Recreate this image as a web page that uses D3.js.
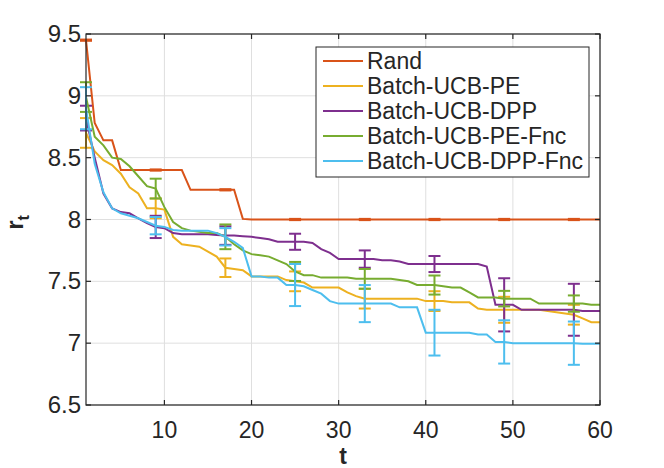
<!DOCTYPE html>
<html>
<head>
<meta charset="utf-8">
<script src="https://cdn.jsdelivr.net/npm/d3@7"></script>
<style>
    body { margin: 0; background: #fff; }
    text { font-family: "Liberation Sans", Arial, sans-serif; fill: #262626; }
</style>
</head>
<body>
<div id="regret"></div>
<script>
// t = 1..60, error bars every 8 rounds
const tValues = d3.range(1, 61);
const errT = [1, 9, 17, 25, 33, 41, 49, 57];
const xTicks = [10, 20, 30, 40, 50, 60];
const yTicks = [6.5, 7, 7.5, 8, 8.5, 9, 9.5];
const seriesNames = ["Rand", "Batch-UCB-PE", "Batch-UCB-DPP", "Batch-UCB-PE-Fnc", "Batch-UCB-DPP-Fnc"];

const randVals = [9.45, 8.78, 8.64, 8.64, 8.40, 8.40, 8.40, 8.40, 8.40, 8.40,
    8.40, 8.40, 8.24, 8.24, 8.24, 8.24, 8.24, 8.24, 8.005, 8.00,
    8.00, 8.00, 8.00, 8.00, 8.00, 8.00, 8.00, 8.00, 8.00, 8.00,
    8.00, 8.00, 8.00, 8.00, 8.00, 8.00, 8.00, 8.00, 8.00, 8.00,
    8.00, 8.00, 8.00, 8.00, 8.00, 8.00, 8.00, 8.00, 8.00, 8.00,
    8.00, 8.00, 8.00, 8.00, 8.00, 8.00, 8.00, 8.00, 8.00, 8.00];
const peVals = [8.70, 8.55, 8.48, 8.44, 8.37, 8.26, 8.21, 8.09, 8.09, 8.08,
    7.86, 7.80, 7.79, 7.78, 7.74, 7.70, 7.61, 7.60, 7.59, 7.54,
    7.54, 7.54, 7.54, 7.51, 7.50, 7.49, 7.45, 7.45, 7.45, 7.45,
    7.41, 7.38, 7.36, 7.36, 7.36, 7.36, 7.36, 7.36, 7.36, 7.34,
    7.34, 7.34, 7.33, 7.33, 7.33, 7.28, 7.27, 7.27, 7.27, 7.27,
    7.27, 7.27, 7.27, 7.26, 7.25, 7.24, 7.23, 7.20, 7.17, 7.17];
const dppVals = [8.82, 8.50, 8.21, 8.09, 8.06, 8.05, 8.01, 7.97, 7.94, 7.93,
    7.89, 7.88, 7.88, 7.88, 7.88, 7.875, 7.87, 7.87, 7.865, 7.86,
    7.85, 7.84, 7.82, 7.82, 7.82, 7.82, 7.81, 7.76, 7.73, 7.68,
    7.68, 7.68, 7.68, 7.68, 7.67, 7.67, 7.66, 7.64, 7.64, 7.64,
    7.64, 7.64, 7.64, 7.64, 7.64, 7.64, 7.62, 7.31, 7.31, 7.31,
    7.27, 7.27, 7.27, 7.27, 7.27, 7.27, 7.27, 7.26, 7.26, 7.26];
const peFncVals = [8.99, 8.67, 8.60, 8.50, 8.49, 8.43, 8.35, 8.27, 8.25, 8.10,
    7.98, 7.93, 7.91, 7.90, 7.89, 7.89, 7.86, 7.80, 7.75, 7.72,
    7.71, 7.70, 7.67, 7.64, 7.58, 7.55, 7.55, 7.53, 7.53, 7.53,
    7.53, 7.52, 7.52, 7.52, 7.52, 7.52, 7.51, 7.50, 7.47, 7.47,
    7.47, 7.46, 7.45, 7.45, 7.41, 7.37, 7.37, 7.37, 7.36, 7.36,
    7.36, 7.36, 7.32, 7.32, 7.32, 7.32, 7.32, 7.32, 7.31, 7.31];
const dppFncVals = [8.90, 8.45, 8.22, 8.09, 8.05, 8.03, 8.01, 7.98, 7.95, 7.94,
    7.915, 7.91, 7.91, 7.91, 7.91, 7.89, 7.86, 7.82, 7.77, 7.54,
    7.54, 7.53, 7.53, 7.47, 7.47, 7.46, 7.43, 7.40, 7.34, 7.32,
    7.32, 7.32, 7.32, 7.32, 7.32, 7.32, 7.29, 7.29, 7.29, 7.085,
    7.085, 7.085, 7.085, 7.085, 7.085, 7.07, 7.07, 7.01, 7.01, 7.00,
    7.00, 7.00, 7.00, 7.00, 7.00, 7.00, 7.00, 6.995, 6.995, 6.995];

// standard deviation at each errT
const randErr = [0.005, 0.005, 0.005, 0.005, 0.005, 0.005, 0.005, 0.005];
const peErr = [0.12, 0.08, 0.075, 0.08, 0.08, 0.08, 0.105, 0.08];
const dppErr = [0.10, 0.09, 0.075, 0.065, 0.07, 0.065, 0.215, 0.21];
const peFncErr = [0.12, 0.08, 0.10, 0.077, 0.08, 0.077, 0.063, 0.066];
const dppFncErr = [0.17, 0.07, 0.07, 0.17, 0.15, 0.185, 0.175, 0.175];

const colors = ["#D95319", "#EDB120", "#7E2F8E", "#77AC30", "#4DBEEE"];

class RegretGraph
{
    constructor()
    {
        this.margin = {top: 34, right: 64, bottom: 63, left: 86};
        this.width = 664 - this.margin.left - this.margin.right;
        this.height = 468 - this.margin.top - this.margin.bottom;
        this.series = [randVals, peVals, dppVals, peFncVals, dppFncVals];
        this.errors = [randErr, peErr, dppErr, peFncErr, dppFncErr];

        this.initialize();
    }

    initialize()
    {
        // Set the ranges
        this.xScale = d3.scaleLinear().domain([1, 60]).range([0, this.width]);
        this.yScale = d3.scaleLinear().domain([6.5, 9.5]).range([this.height, 0]);

        this.svg = d3.select("#regret")
            .append("svg")
            .attr("width", 664)
            .attr("height", 468)
            .append("g")
            .attr("transform", "translate(" + this.margin.left + "," + this.margin.top + ")");

        // Grid
        this.svg.append("g").selectAll("line.vg")
            .data(xTicks).enter().append("line")
            .attr("x1", d => this.xScale(d)).attr("x2", d => this.xScale(d))
            .attr("y1", 0).attr("y2", this.height)
            .attr("stroke", "#dfdfdf").attr("stroke-width", 1);
        this.svg.append("g").selectAll("line.hg")
            .data(yTicks).enter().append("line")
            .attr("x1", 0).attr("x2", this.width)
            .attr("y1", d => this.yScale(d)).attr("y2", d => this.yScale(d))
            .attr("stroke", "#dfdfdf").attr("stroke-width", 1);

        // Lines with error bars
        const line = d3.line()
            .x((d, i) => this.xScale(tValues[i]))
            .y(d => this.yScale(d));

        this.series.forEach((vals, s) => {
            const g = this.svg.append("g");
            g.append("path")
                .attr("d", line(vals))
                .attr("fill", "none")
                .attr("stroke", colors[s])
                .attr("stroke-width", 2);

            const bars = errT.map((t, k) => ({t: t, m: vals[t - 1], e: this.errors[s][k]}));
            const cap = 6;
            const eb = g.selectAll("g.eb").data(bars).enter().append("g")
                .attr("stroke", colors[s]).attr("stroke-width", 2);
            eb.append("line")
                .attr("x1", d => this.xScale(d.t)).attr("x2", d => this.xScale(d.t))
                .attr("y1", d => this.yScale(d.m - d.e)).attr("y2", d => this.yScale(d.m + d.e));
            eb.append("line")
                .attr("x1", d => this.xScale(d.t) - cap).attr("x2", d => this.xScale(d.t) + cap)
                .attr("y1", d => this.yScale(d.m - d.e)).attr("y2", d => this.yScale(d.m - d.e));
            eb.append("line")
                .attr("x1", d => this.xScale(d.t) - cap).attr("x2", d => this.xScale(d.t) + cap)
                .attr("y1", d => this.yScale(d.m + d.e)).attr("y2", d => this.yScale(d.m + d.e));
        });

        // Axes, MATLAB style: ticks inward on all four sides
        const tick = 5;
        const axisG = this.svg.append("g")
            .attr("stroke", "#262626").attr("stroke-width", 1.2);
        axisG.append("rect")
            .attr("x", 0).attr("y", 0)
            .attr("width", this.width).attr("height", this.height)
            .attr("fill", "none");
        xTicks.forEach(d => {
            const x = this.xScale(d);
            axisG.append("line").attr("x1", x).attr("x2", x).attr("y1", this.height).attr("y2", this.height - tick);
            axisG.append("line").attr("x1", x).attr("x2", x).attr("y1", 0).attr("y2", tick);
        });
        yTicks.forEach(d => {
            const y = this.yScale(d);
            axisG.append("line").attr("x1", 0).attr("x2", tick).attr("y1", y).attr("y2", y);
            axisG.append("line").attr("x1", this.width).attr("x2", this.width - tick).attr("y1", y).attr("y2", y);
        });

        // Tick labels
        this.svg.append("g").selectAll("text")
            .data(xTicks).enter().append("text")
            .attr("x", d => this.xScale(d))
            .attr("y", this.height + 33)
            .style("text-anchor", "middle")
            .style("font-size", "23px")
            .text(d => d);
        this.svg.append("g").selectAll("text")
            .data(yTicks).enter().append("text")
            .attr("x", -5)
            .attr("y", d => this.yScale(d) + 8)
            .style("text-anchor", "end")
            .style("font-size", "24px")
            .text(d => d);

        // Axis labels
        this.svg.append("text")
            .attr("x", this.width / 2)
            .attr("y", this.height + 59)
            .style("text-anchor", "middle")
            .style("font-size", "23px")
            .style("font-weight", "bold")
            .text("t");

        const yl = this.svg.append("text")
            .attr("transform", "translate(" + (23 - this.margin.left) + "," + (this.height / 2 + 3) + ") rotate(-90)")
            .style("text-anchor", "middle")
            .style("font-weight", "bold");
        yl.append("tspan").style("font-size", "24px").text("r");
        yl.append("tspan").style("font-size", "16px").attr("dy", 6).text("t");

        // Legend
        const lx = 316 - this.margin.left, ly = 47 - this.margin.top;
        const legend = this.svg.append("g").attr("transform", "translate(" + lx + "," + ly + ")");
        legend.append("rect")
            .attr("width", 273).attr("height", 130)
            .attr("fill", "#fff")
            .attr("stroke", "#262626").attr("stroke-width", 1);
        const item = legend.selectAll("g.item").data(seriesNames).enter().append("g")
            .attr("transform", (d, i) => "translate(0," + (14 + i * 25) + ")");
        item.append("line")
            .attr("x1", 7).attr("x2", 47)
            .attr("stroke", (d, i) => colors[i]).attr("stroke-width", 2);
        item.append("text")
            .attr("x", 51).attr("y", 8)
            .style("font-size", "23px")
            .text(d => d);
    }
};

new RegretGraph();
</script>
</body>
</html>
